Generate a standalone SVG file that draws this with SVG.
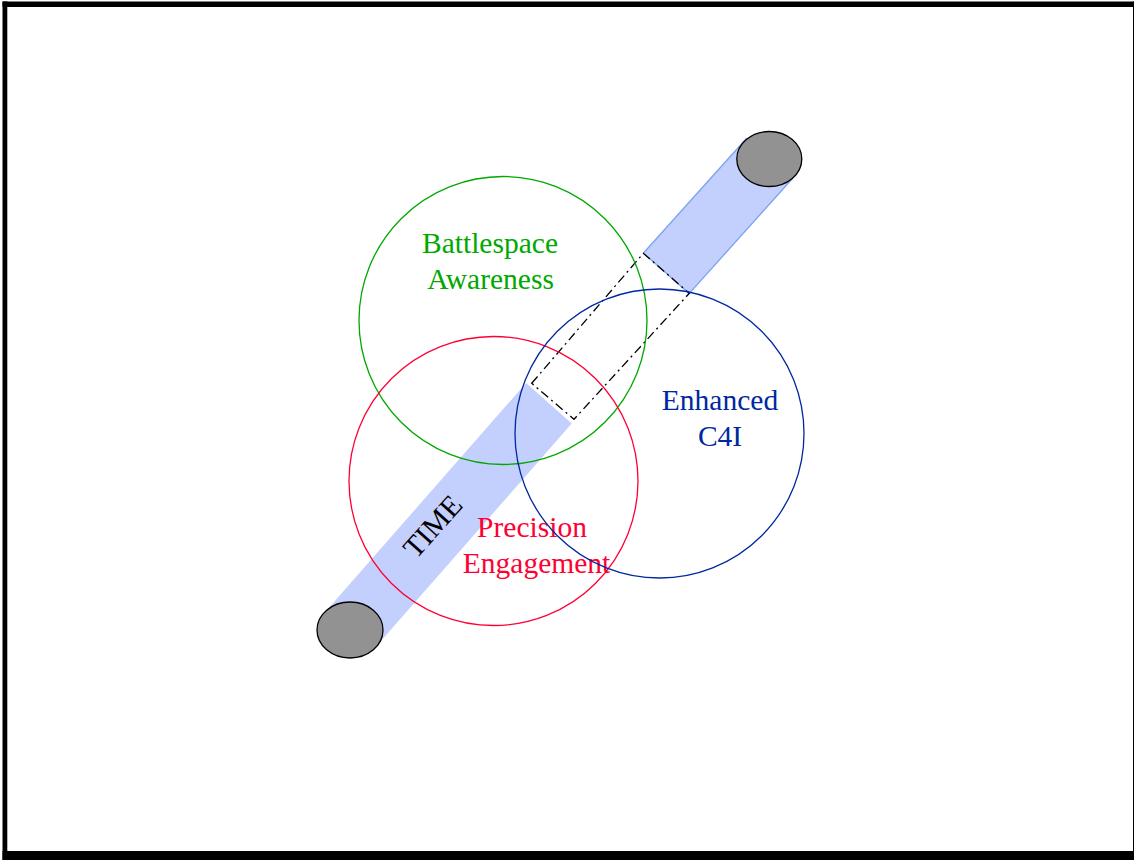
<svg xmlns="http://www.w3.org/2000/svg" width="1134" height="860" viewBox="0 0 1134 860">
<style>
.lbl{font-family:"Liberation Serif","Times New Roman",serif;font-size:29.5px;text-anchor:middle}
.ring{fill:none;stroke-width:1.3}
.bar{fill:#c3cffc}
.cap{fill:#929292;stroke:#000;stroke-width:1.3}
</style>
<rect x="0" y="0" width="1134" height="860" fill="#fff"/>
<g id="frame" fill="#000">
<rect x="2.5" y="1.5" width="1131.5" height="5.5"/>
<rect x="2.5" y="1.5" width="4.8" height="858.5"/>
<rect x="1133" y="1.5" width="1" height="858.5"/>
<rect x="2.5" y="851" width="1131.5" height="9"/>
</g>
<g id="time-bar">
<polygon class="bar" points="327.2,609.7 526.1,383 571.7,423.6 372.8,650.3"/>
<polygon class="bar" points="643.5,253 746.2,138.7 791.8,179.3 689.1,293.6" stroke="#7ca2f2" stroke-width="1.3"/>
<ellipse class="cap" cx="350" cy="630" rx="33" ry="28"/>
<ellipse class="cap" cx="769.3" cy="159" rx="32.5" ry="27.5"/>
</g>
<g id="connectors">
<polygon points="531.7,383.3 643.3,253.3 689.3,293.3 574,419.3" fill="none" stroke="#000" stroke-width="1.3" stroke-dasharray="9,4,2,4"/>
</g>
<g id="battlespace-awareness">
<circle class="ring" cx="503" cy="320.5" r="144" stroke="#00a800"/>
<text class="lbl" fill="#00a800" x="490" y="253">Battlespace</text>
<text class="lbl" fill="#00a800" x="490.5" y="289">Awareness</text>
</g>
<g id="precision-engagement">
<circle class="ring" cx="493.5" cy="481" r="144.5" stroke="#ff0033"/>
<text class="lbl" fill="#ff0033" x="532" y="537">Precision</text>
<text class="lbl" fill="#ff0033" x="536.5" y="573">Engagement</text>
</g>
<g id="enhanced-c4i">
<circle class="ring" cx="659.5" cy="433.5" r="144.5" stroke="#0028a0"/>
<text class="lbl" fill="#0028a0" x="720" y="409.5">Enhanced</text>
<text class="lbl" fill="#0028a0" x="720" y="446">C4I</text>
</g>
<g id="time-label">
<text class="lbl" fill="#000" x="440" y="533" transform="rotate(-48 440 533)">TIME</text>
</g>
</svg>
